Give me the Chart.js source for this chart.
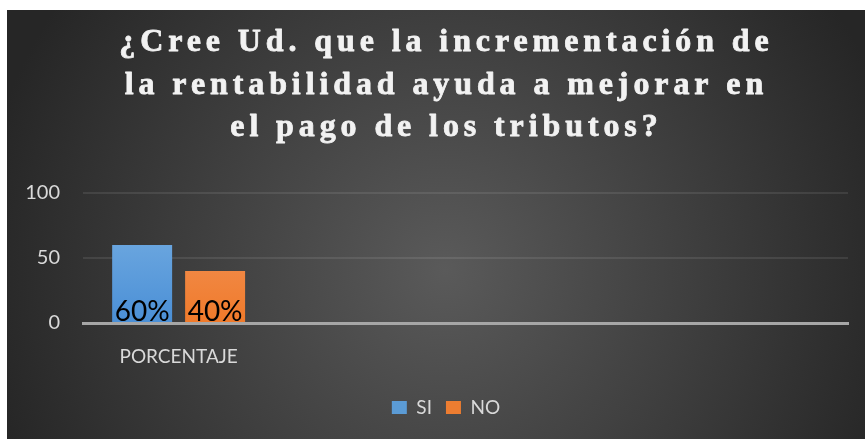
<!DOCTYPE html>
<html><head><meta charset="utf-8">
<script src="https://cdn.jsdelivr.net/npm/chart.js@4.4.1/dist/chart.umd.min.js"></script>
<style>html,body{margin:0;padding:0;background:#fff;}#wrap{width:865px;height:439px;position:relative;}</style>
</head><body><div id="wrap"><canvas id="c"></canvas></div>
<script>
const titleLines = ['¿Cree Ud. que la incrementación de', 'la rentabilidad ayuda a mejorar en', 'el pago de los tributos?'];
const categories = ['PORCENTAJE', '', '', ''];
const seriesNames = ['SI', 'NO'];
const siValues = [60, null, null, null];
const noValues = [40, null, null, null];
const yTicks = [0, 50, 100];

const bgPlugin = {
  id: 'bg',
  beforeDraw(chart) {
    const ctx = chart.ctx;
    ctx.save();
    ctx.fillStyle = '#ffffff';
    ctx.fillRect(0, 0, chart.width, chart.height);
    const g = ctx.createRadialGradient(445, 270, 0, 445, 270, 470);
    g.addColorStop(0, '#5a5a5a');
    g.addColorStop(1, '#262626');
    ctx.fillStyle = g;
    ctx.fillRect(7, 10, chart.width - 7, chart.height - 10);
    ctx.restore();
  }
};

const legendShift = {
  id: 'legendShift',
  afterLayout(chart) {
    if (chart.legend) { chart.legend.left = 44; }
  }
};

const titlePlugin = {
  id: 'tit',
  afterDraw(chart) {
    const ctx = chart.ctx;
    const ls = 4.9;
    ctx.save();
    ctx.font = 'bold 32px "Liberation Serif", "Times New Roman", serif';
    ctx.letterSpacing = ls + 'px';
    ctx.fillStyle = '#f2f2f2';
    ctx.strokeStyle = '#f2f2f2';
    ctx.lineWidth = 0.8;
    ctx.lineJoin = 'round';
    ctx.textAlign = 'center';
    ctx.textBaseline = 'alphabetic';
    titleLines.forEach((t, i) => {
      const x = 444 + ls / 2, y = 51 + i * 42.5;
      ctx.fillText(t, x, y);
      ctx.strokeText(t, x, y);
    });
    ctx.restore();
  }
};

const labelPlugin = {
  id: 'dl',
  afterDatasetsDraw(chart) {
    const ctx = chart.ctx;
    ctx.save();
    ctx.font = '28px Lato, Calibri, sans-serif';
    ctx.fillStyle = '#000000';
    ctx.textAlign = 'center';
    ctx.textBaseline = 'alphabetic';
    chart.data.datasets.forEach((ds, di) => {
      const meta = chart.getDatasetMeta(di);
      meta.data.forEach((el, i) => {
        const v = ds.data[i];
        if (v === null || v === undefined) return;
        ctx.fillText(v + '%', el.x, el.base - 1);
      });
    });
    ctx.restore();
  }
};

function grad(chart, top, bottom) {
  const area = chart.chartArea;
  if (!area) return bottom;
  const g = chart.ctx.createLinearGradient(0, area.top, 0, area.bottom);
  g.addColorStop(0, top);
  g.addColorStop(1, bottom);
  return g;
}

new Chart(document.getElementById('c'), {
  type: 'bar',
  data: {
    labels: categories,
    datasets: [
      { label: seriesNames[0], data: siValues,
        backgroundColor: c => grad(c.chart, '#7db3e4', '#4a8fd6'),
        categoryPercentage: 0.763, barPercentage: 0.822 },
      { label: seriesNames[1], data: noValues,
        backgroundColor: c => grad(c.chart, '#f29a66', '#f07a2a'),
        categoryPercentage: 0.763, barPercentage: 0.822 }
    ]
  },
  options: {
    responsive: true,
    maintainAspectRatio: false,
    devicePixelRatio: 1,
    animation: false,
    layout: { padding: { top: 193, left: 0, right: 17, bottom: 12 } },
    plugins: {
      title: { display: false },
      tooltip: { enabled: false },
      legend: {
        position: 'bottom',
        labels: {
          color: '#d9d9d9',
          font: { family: 'Lato', size: 19 },
          boxWidth: 15, boxHeight: 13, padding: 14,
          generateLabels: (chart) => chart.data.datasets.map((ds, i) => ({
            text: ds.label,
            fillStyle: i === 0 ? '#5b9bd5' : '#ed7d31',
            strokeStyle: 'rgba(0,0,0,0)', lineWidth: 0,
            fontColor: '#d9d9d9', datasetIndex: i, hidden: false
          }))
        }
      }
    },
    scales: {
      x: {
        grid: { display: false },
        border: { color: '#a6a6a6', width: 3 },
        ticks: { color: '#d9d9d9', font: { family: 'Lato', size: 19 }, padding: 14, maxRotation: 0 },
        afterFit: s => { s.height = 61; }
      },
      y: {
        min: 0, max: 100,
        afterBuildTicks: s => { s.ticks = yTicks.map(v => ({ value: v })); },
        ticks: { color: '#d9d9d9', font: { family: 'Lato', size: 20 }, padding: 23 },
        grid: { drawTicks: false, lineWidth: 2,
          color: c => (c.tick && c.tick.value === 0) ? 'rgba(0,0,0,0)' : 'rgba(255,255,255,0.09)' },
        border: { display: false },
        afterFit: s => { s.width = 83; }
      }
    }
  },
  plugins: [bgPlugin, legendShift, labelPlugin, titlePlugin]
});
</script></body></html>
